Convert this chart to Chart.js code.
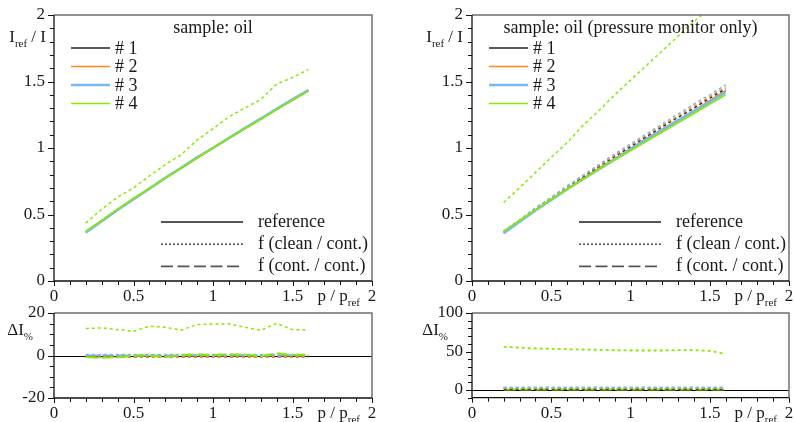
<!DOCTYPE html>
<html>
<head>
<meta charset="utf-8">
<script src="https://cdn.jsdelivr.net/npm/chart.js@4.4.1/dist/chart.umd.min.js"></script>
<style>
    html, body { margin: 0; padding: 0; background: #fff; }
    #wrap { position: relative; width: 795px; height: 422px; }
    #wrap canvas { position: absolute; left: 0; top: 0; }
</style>
</head>
<body>
<div id="wrap">
    <canvas id="top-left" width="795" height="422"></canvas>
    <canvas id="top-right" width="795" height="422"></canvas>
    <canvas id="bottom-left" width="795" height="422"></canvas>
    <canvas id="bottom-right" width="795" height="422"></canvas>
</div>
<script>
// p / p_ref sampling points (same for every curve)
const pressure = [0.2, 0.3, 0.4, 0.5, 0.6, 0.7, 0.8, 0.9, 1.0, 1.1, 1.2, 1.3, 1.4, 1.5, 1.6];

// tick labels
const xTicks = [0, 0.5, 1, 1.5, 2];
const yTicksRatio = [0, 0.5, 1, 1.5, 2];
const yTicksDiffLeft = [-20, 0, 20];
const yTicksDiffRight = [0, 50, 100];

const samples = ["# 1", "# 2", "# 3", "# 4"];
const curveKinds = ["reference", "f (clean / cont.)", "f (cont. / cont.)"];

// --- left: sample oil, I_ref / I ---
// the clean/cont and cont/cont curves of #1..#3 lie on top of their reference
const refLeft = [0.365, 0.45, 0.535, 0.615, 0.695, 0.775, 0.85, 0.925, 1.0, 1.075, 1.145, 1.22, 1.29, 1.36, 1.43];
const refLeft3 = [0.365, 0.45, 0.535, 0.615, 0.695, 0.775, 0.85, 0.93, 1.0, 1.075, 1.15, 1.22, 1.295, 1.365, 1.435];
const refLeft4 = [0.375, 0.455, 0.54, 0.62, 0.695, 0.775, 0.85, 0.925, 1.0, 1.075, 1.145, 1.215, 1.29, 1.36, 1.43];
const cleanLeft4 = [0.435, 0.54, 0.63, 0.70, 0.79, 0.875, 0.95, 1.06, 1.145, 1.235, 1.30, 1.365, 1.48, 1.53, 1.59];

// --- left: Delta I in percent ---
const diffLeftZero = [0, 0, 0, 0, 0, 0, 0, 0, 0, 0, 0, 0, 0, 0, 0];
const diffLeftClean1 = [-0.5, -0.5, -0.5, -0.5, -0.5, -0.5, -0.5, -0.5, -0.5, -0.5, -0.5, -0.5, -0.5, -0.5, -0.5];
const diffLeftClean2 = [-0.5, -0.5, -0.5, -0.5, -0.5, -0.5, -0.5, -0.5, -0.5, -0.5, -0.5, -0.5, -0.5, -0.5, -0.5];
const diffLeftClean3 = [0.4, 0.4, 0.4, 0.4, 0.4, 0.4, 0.4, 0.4, 0.4, 0.4, 0.4, 0.4, 0.4, 0.4, 0.4];
const diffLeftClean4 = [12.7, 13.0, 12.2, 11.4, 13.8, 13.3, 11.9, 14.6, 14.8, 14.9, 13.3, 11.9, 15.1, 12.2, 11.9];
const diffLeftCont4 = [-0.7, -1.1, -0.8, -0.1, 0, -0.7, 0.2, 0.6, 0.2, 0.5, 0.5, -0.4, 1.1, 0.2, 0.4];

// --- right: pressure monitor only, I_ref / I ---
const refRight1 = [0.36, 0.445, 0.53, 0.61, 0.69, 0.77, 0.845, 0.92, 0.995, 1.07, 1.14, 1.21, 1.28, 1.355, 1.43];
const refRight3 = [0.36, 0.445, 0.53, 0.61, 0.69, 0.765, 0.84, 0.915, 0.99, 1.065, 1.135, 1.205, 1.275, 1.345, 1.42];
const refRight4 = [0.375, 0.455, 0.535, 0.615, 0.69, 0.765, 0.84, 0.91, 0.98, 1.05, 1.12, 1.19, 1.26, 1.33, 1.40];
const cleanRight1 = [0.365, 0.45, 0.54, 0.62, 0.70, 0.78, 0.86, 0.935, 1.01, 1.085, 1.16, 1.23, 1.30, 1.375, 1.445];
const cleanRight2 = [0.37, 0.455, 0.545, 0.625, 0.705, 0.79, 0.865, 0.945, 1.02, 1.095, 1.17, 1.24, 1.315, 1.385, 1.46];
const cleanRight3 = [0.375, 0.46, 0.55, 0.63, 0.715, 0.795, 0.875, 0.955, 1.03, 1.105, 1.18, 1.255, 1.33, 1.40, 1.475];
const cleanRight4 = [0.59, 0.70, 0.815, 0.93, 1.04, 1.17, 1.28, 1.40, 1.51, 1.62, 1.73, 1.84, 1.95, 2.05, 2.10];

// --- right: Delta I in percent ---
const diffRightClean1 = [1.5, 1.5, 1.5, 1.5, 1.5, 1.5, 1.5, 1.5, 1.5, 1.5, 1.5, 1.5, 1.5, 1.5, 1.5];
const diffRightClean2 = [2.5, 2.5, 2.5, 2.5, 2.5, 2.5, 2.5, 2.5, 2.5, 2.5, 2.5, 2.5, 2.5, 2.5, 2.5];
const diffRightClean3 = [3.3, 3.3, 3.3, 3.3, 3.3, 3.3, 3.3, 3.3, 3.3, 3.3, 3.3, 3.3, 3.3, 3.3, 3.3];
const diffRightClean4 = [56, 55, 53.9, 53.5, 53, 52.6, 52.2, 51.7, 51.3, 51.3, 51.3, 51.7, 51.7, 50.8, 46.9];
const diffRightCont4 = [0.5, 0.5, 0.5, 0.5, 0.5, 0.5, 0.5, 0.5, 0.5, 0.5, 0.5, 0.5, 0.5, 0.5, 0.5];

// styles
const FONT = "'Liberation Serif', 'DejaVu Serif', serif";
const colors = ["#222222", "#ff8a1e", "#7cb8f0", "#84ea00"];
const widths = [1.2, 1.6, 2.6, 1.7];
const DOTTED = [3, 3];
const DASHED = [12, 4];

const toPoints = (values) => pressure.map((p, i) => ({ x: p, y: values[i] }));

const curve = (values, sample, dash, width) => ({
    data: toPoints(values),
    borderColor: colors[sample],
    borderWidth: width || (dash ? 1.5 : widths[sample]),
    borderDash: dash || [],
    pointRadius: 0,
    fill: false,
    tension: 0
});

// draws a text made of [text, isSubscript] parts
const drawParts = (ctx, parts, x, y, align, size) => {
    const subSize = Math.round(size * 0.62);
    let total = 0;
    parts.forEach(([t, sub]) => {
        ctx.font = `${sub ? subSize : size}px ${FONT}`;
        total += ctx.measureText(t).width;
    });
    let cx = align === "right" ? x - total : align === "center" ? x - total / 2 : x;
    ctx.textAlign = "left";
    ctx.textBaseline = "middle";
    parts.forEach(([t, sub]) => {
        ctx.font = `${sub ? subSize : size}px ${FONT}`;
        ctx.fillText(t, cx, sub ? y + 6 : y);
        cx += ctx.measureText(t).width;
    });
};

const xLabelParts = [["p / p", false], ["ref", true]];

/**
 * Frame, ticks, axis texts and legends, all in page coordinates.
 */
const decorPlugin = {
    id: "decor",
    beforeDatasetsDraw(chart, args, o) {
        if (!o.zeroLine) return;
        const ctx = chart.ctx, a = chart.chartArea;
        const py = Math.round(chart.scales.y.getPixelForValue(0)) + 0.5;
        ctx.save();
        ctx.strokeStyle = "#000";
        ctx.lineWidth = 1.2;
        ctx.beginPath();
        ctx.moveTo(a.left, py);
        ctx.lineTo(a.right, py);
        ctx.stroke();
        ctx.restore();
    },
    afterDatasetsDraw(chart, args, o) {
        const ctx = chart.ctx, a = chart.chartArea;
        const xs = chart.scales.x, ys = chart.scales.y;
        ctx.save();

        // frame: grey top/right, black axes
        ctx.strokeStyle = "#707070";
        ctx.lineWidth = 1.5;
        ctx.beginPath();
        ctx.moveTo(a.left, a.top);
        ctx.lineTo(a.right, a.top);
        ctx.lineTo(a.right, a.bottom);
        ctx.stroke();
        ctx.strokeStyle = "#111";
        ctx.lineWidth = 1.3;
        ctx.beginPath();
        ctx.moveTo(a.left, a.top);
        ctx.lineTo(a.left, a.bottom);
        ctx.lineTo(a.right, a.bottom);
        ctx.stroke();

        // x ticks every 0.1, pointing down
        ctx.lineWidth = 1;
        ctx.beginPath();
        for (let k = 0; k <= 20; k++) {
            const px = Math.round(xs.getPixelForValue(k / 10)) + 0.5;
            ctx.moveTo(px, a.bottom);
            ctx.lineTo(px, a.bottom + (k % 5 === 0 ? 5 : 4));
        }
        // y ticks, pointing left
        const n = Math.round((o.yMax - o.yMin) / o.yMinor);
        for (let k = 0; k <= n; k++) {
            const v = o.yMin + k * o.yMinor;
            const major = o.yTicks.some(t => Math.abs(t - v) < 1e-6);
            const py = Math.round(ys.getPixelForValue(v)) + 0.5;
            ctx.moveTo(a.left, py);
            ctx.lineTo(a.left - (major ? 6 : 4), py);
        }
        ctx.stroke();

        // tick labels
        ctx.fillStyle = "#1a1a1a";
        ctx.font = `17px ${FONT}`;
        ctx.textBaseline = "middle";
        ctx.textAlign = "right";
        o.yTicks.forEach(v => ctx.fillText(String(v), a.left - 9, ys.getPixelForValue(v)));
        ctx.textAlign = "center";
        xTicks.forEach(v => ctx.fillText(String(v), xs.getPixelForValue(v), a.bottom + 16));
        drawParts(ctx, xLabelParts, xs.getPixelForValue(2) - 12, a.bottom + 16, "right", 17);

        // y axis title
        drawParts(ctx, o.yLabel, a.left - o.yLabelGap, o.yLabelY, "right", 17);

        // title
        if (o.title) {
            ctx.font = `18px ${FONT}`;
            ctx.textAlign = "center";
            ctx.textBaseline = "alphabetic";
            ctx.fillText(o.title, (a.left + a.right) / 2, a.top + 18);
        }

        // sample legend
        if (o.legend) {
            samples.forEach((name, i) => {
                const y = a.top + 33 + i * 18.5;
                ctx.strokeStyle = colors[i];
                ctx.lineWidth = i === 0 ? 1.5 : widths[i];
                ctx.setLineDash([]);
                ctx.beginPath();
                ctx.moveTo(a.left + 17, y);
                ctx.lineTo(a.left + 56, y);
                ctx.stroke();
                ctx.fillStyle = "#1a1a1a";
                ctx.font = `18px ${FONT}`;
                ctx.textAlign = "left";
                ctx.textBaseline = "middle";
                ctx.fillText(name, a.left + 61, y + 1);
            });
            // line style legend
            const dashes = [[], [2, 2], [12, 4.5]];
            curveKinds.forEach((name, i) => {
                const y = a.top + 207 + i * 22.2;
                ctx.strokeStyle = "#555";
                ctx.lineWidth = i === 0 ? 2 : 1.6;
                ctx.setLineDash(dashes[i]);
                ctx.beginPath();
                ctx.moveTo(a.left + 107, y);
                ctx.lineTo(a.left + 189, y);
                ctx.stroke();
                ctx.fillStyle = "#1a1a1a";
                ctx.font = `18px ${FONT}`;
                ctx.textAlign = "left";
                ctx.textBaseline = "middle";
                ctx.fillText(name, a.left + 204, y);
            });
        }
        ctx.restore();
    }
};

/**
 * One panel; every canvas spans the page, the plot box is set by layout padding.
 * Chart.js paints the first dataset last, so the list is reversed to keep paint order.
 */
const makePanel = (id, box, yMin, yMax, datasets, decor) => new Chart(document.getElementById(id), {
    type: "line",
    data: { datasets: datasets.slice().reverse() },
    options: {
        responsive: false,
        animation: false,
        devicePixelRatio: 1,
        layout: { padding: { left: box[0], top: box[1], right: 795 - box[2], bottom: 422 - box[3] } },
        scales: {
            x: { type: "linear", min: 0, max: 2, display: false },
            y: { type: "linear", min: yMin, max: yMax, display: false }
        },
        plugins: {
            legend: { display: false },
            tooltip: { enabled: false },
            decor: Object.assign({ yMin, yMax }, decor)
        }
    },
    plugins: [decorPlugin]
});

const ratioLabel = [["I", false], ["ref", true], [" / I", false]];
const diffLabel = [["\u0394I", false], ["%", true]];

makePanel("top-left", [54, 15, 372, 281], 0, 2, [
    curve(refLeft, 0),
    curve(refLeft, 1),
    curve(refLeft3, 2),
    curve(cleanLeft4, 3, DOTTED),
    curve(refLeft4, 3)
], { yTicks: yTicksRatio, yMinor: 0.1, yLabel: ratioLabel, yLabelGap: 8, yLabelY: 38, title: "sample: oil", legend: true });

makePanel("top-right", [472, 15, 789, 281], 0, 2, [
    curve(cleanRight1, 0, DOTTED),
    curve(cleanRight2, 1, DOTTED),
    curve(cleanRight3, 2, DOTTED),
    curve(refRight1, 0),
    curve(refRight1, 1),
    curve(refRight3, 2),
    curve(refRight4, 3),
    curve(cleanRight4, 3, DOTTED)
], { yTicks: yTicksRatio, yMinor: 0.1, yLabel: ratioLabel, yLabelGap: 9, yLabelY: 38, title: "sample: oil (pressure monitor only)", legend: true });

makePanel("bottom-left", [54, 313, 372, 398], -20, 20, [
    curve(diffLeftZero, 2, DASHED, 2),
    curve(diffLeftClean1, 0, DOTTED, 2),
    curve(diffLeftClean2, 1, DOTTED, 2),
    curve(diffLeftClean3, 2, DOTTED, 2),
    curve(diffLeftCont4, 3, DASHED, 2),
    curve(diffLeftClean4, 3, DOTTED, 1.5)
], { yTicks: yTicksDiffLeft, yMinor: 5, yLabel: diffLabel, yLabelGap: 21, yLabelY: 331, zeroLine: true });

makePanel("bottom-right", [472, 313, 789, 397.7], -10, 100, [
    curve(diffRightCont4, 3, DASHED, 2),
    curve(diffRightClean1, 0, DOTTED, 2),
    curve(diffRightClean2, 1, DOTTED, 2),
    curve(diffRightClean3, 2, DOTTED, 2),
    curve(diffRightClean4, 3, DOTTED, 1.8)
], { yTicks: yTicksDiffRight, yMinor: 10, yLabel: diffLabel, yLabelGap: 24, yLabelY: 331, zeroLine: true });
</script>
</body>
</html>
